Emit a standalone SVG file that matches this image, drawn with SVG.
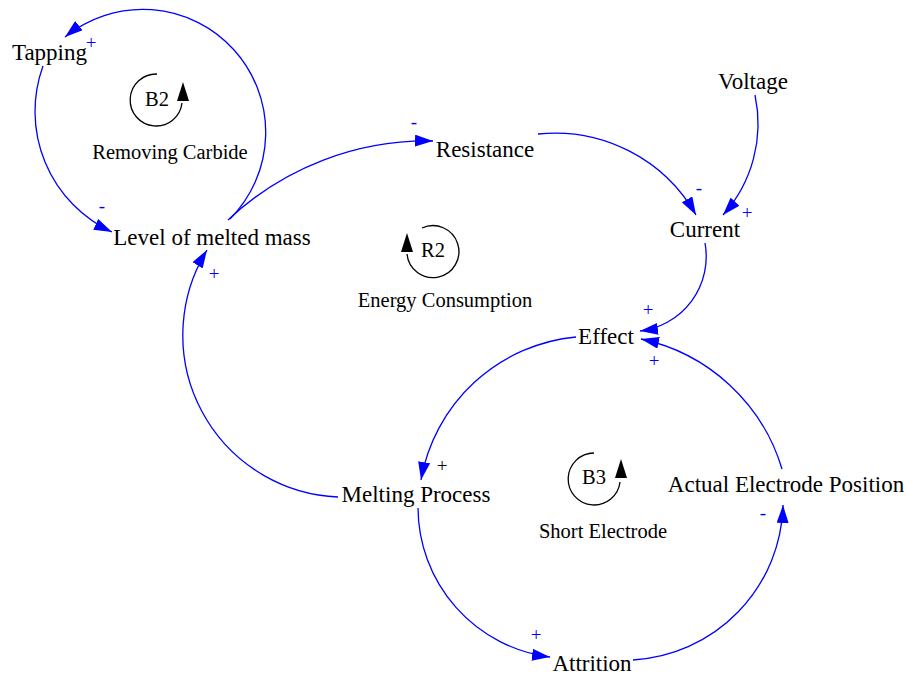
<svg xmlns="http://www.w3.org/2000/svg" width="907" height="675" viewBox="0 0 907 675">
<style>
.n{font-family:"Liberation Serif","Times New Roman",serif;font-size:23px;fill:#000;text-anchor:middle}
.l{font-family:"Liberation Serif","Times New Roman",serif;font-size:20.5px;fill:#000;text-anchor:middle}
.p{font-family:"Liberation Serif","Times New Roman",serif;font-size:19px;fill:#00f;text-anchor:middle}
.pk{font-family:"Liberation Serif","Times New Roman",serif;font-size:19px;fill:#000;text-anchor:middle}
.c{fill:none;stroke:#00f;stroke-width:1.3;marker-end:url(#ah)}
.lp{fill:none;stroke:#000;stroke-width:1.3}
</style>
<defs>
<marker id="ah" markerUnits="userSpaceOnUse" markerWidth="18" markerHeight="12" refX="18" refY="6" orient="auto" viewBox="0 0 18 12">
<path d="M0,0 L18,6 L0,12 z" fill="#00f"/>
</marker>
</defs>
<rect width="907" height="675" fill="#fff"/>
<g id="connectors">
<path class="c" d="M230,219 A123,123 0 0 0 65,37"/>
<path class="c" d="M43,66 A133,133 0 0 0 112,232"/>
<path class="c" d="M228,220 A290,290 0 0 1 433,141"/>
<path class="c" d="M538,134 A162,162 0 0 1 696,215"/>
<path class="c" d="M755,95 A136.5,136.5 0 0 1 723,215"/>
<path class="c" d="M705,243 A75,75 0 0 1 640,331"/>
<path class="c" d="M782,469 A188,188 0 0 0 641,339"/>
<path class="c" d="M576,337 A174,174 0 0 0 421,480"/>
<path class="c" d="M418,508 A151,151 0 0 0 550,657"/>
<path class="c" d="M633,660 A159,159 0 0 0 783,505"/>
<path class="c" d="M338,497 A162,162 0 0 1 207,250"/>
</g>
<g id="polarities">
<text class="p" x="91" y="49">+</text>
<text class="p" x="102" y="212">-</text>
<text class="p" x="414" y="128">-</text>
<text class="p" x="699" y="194">-</text>
<text class="p" x="747" y="219">+</text>
<text class="p" x="648" y="316">+</text>
<text class="p" x="654" y="367">+</text>
<text class="pk" x="442" y="472">+</text>
<text class="p" x="536" y="641">+</text>
<text class="p" x="763" y="519">-</text>
<text class="p" x="214" y="280">+</text>
</g>
<g id="tapping"><text class="n" x="49.5" y="60">Tapping</text></g>
<g id="level"><text class="n" x="212" y="245">Level of melted mass</text></g>
<g id="resistance"><text class="n" x="485" y="157">Resistance</text></g>
<g id="voltage"><text class="n" x="753" y="89">Voltage</text></g>
<g id="current"><text class="n" x="705" y="237">Current</text></g>
<g id="effect"><text class="n" x="606" y="344">Effect</text></g>
<g id="melting"><text class="n" x="416" y="502">Melting Process</text></g>
<g id="actual"><text class="n" x="786" y="492">Actual Electrode Position</text></g>
<g id="attrition"><text class="n" x="592" y="671">Attrition</text></g>
<g id="loop-b2">
<path class="lp" d="M157,74 A26,26 0 1 0 182,103"/>
<polygon points="177,101 189,101 183,82" fill="#000"/>
<text class="l" x="157" y="106">B2</text>
<text class="l" x="170" y="159">Removing Carbide</text>
</g>
<g id="loop-r2">
<path class="lp" d="M422,228 A26,26 0 1 1 407,254"/>
<polygon points="401,252 413,252 407,233" fill="#000"/>
<text class="l" x="433" y="257">R2</text>
<text class="l" x="445" y="307">Energy Consumption</text>
</g>
<g id="loop-b3">
<path class="lp" d="M594,453 A26,26 0 1 0 620,482"/>
<polygon points="615,478 627,478 621,459" fill="#000"/>
<text class="l" x="594" y="484">B3</text>
<text class="l" x="603" y="538">Short Electrode</text>
</g>
</svg>
